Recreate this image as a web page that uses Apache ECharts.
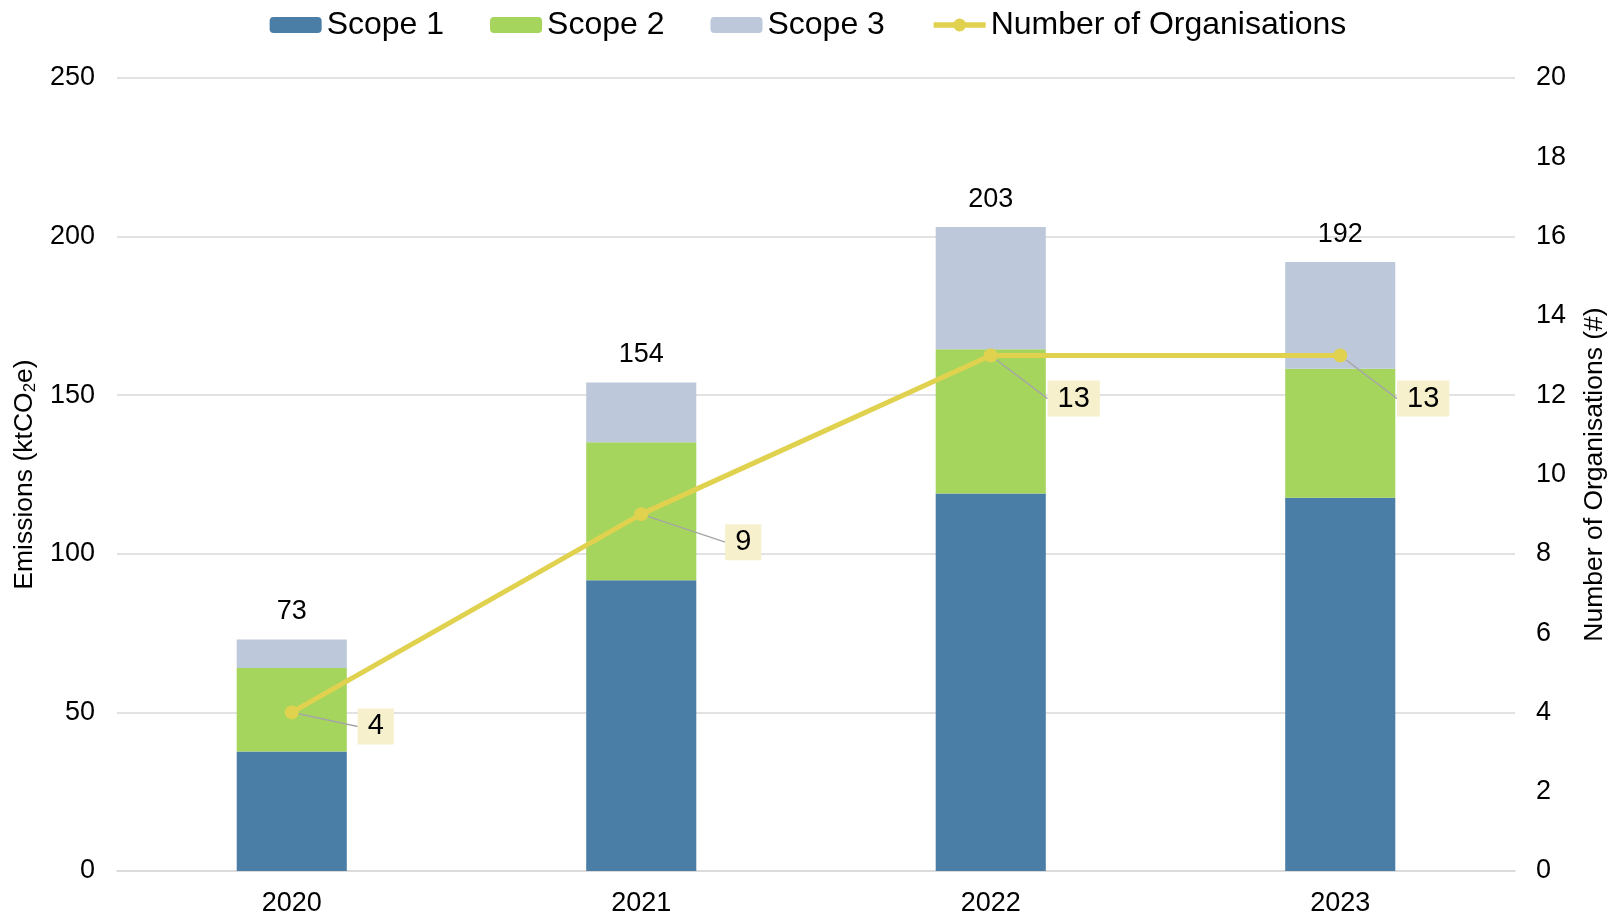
<!DOCTYPE html>
<html>
<head>
<meta charset="utf-8">
<style>
  html, body { margin: 0; padding: 0; background: #fff; }
  #chart { width: 1616px; height: 916px; }
</style>
<script src="https://cdn.jsdelivr.net/npm/echarts@6/dist/echarts.min.js"></script>
</head>
<body>
<div id="chart"></div>
<script>
const years = ['2020', '2021', '2022', '2023']
const scope1 = [37.7, 91.7, 119.0, 117.7]
const scope2 = [26.3, 43.5, 45.5, 40.6]
const scope3 = [9.0, 18.8, 38.5, 33.7]
const totals = [73, 154, 203, 192]
const organisations = [4, 9, 13, 13]

const font = 'Liberation Sans, Arial, sans-serif'
const labelShift = [[84, 14], [102, 28], [83, 43], [83, 43]]

const chart = echarts.init(document.getElementById('chart'))
chart.setOption({
  animation: false,
  textStyle: { fontFamily: font },
  legend: {
    top: 4,
    left: 'center',
    itemWidth: 52,
    itemHeight: 16,
    itemGap: 46,
    textStyle: { fontSize: 32, color: '#000', padding: [0, 0, 0, 0] },
    data: [
      'Scope 1',
      'Scope 2',
      'Scope 3',
      { name: 'Number of Organisations', lineStyle: { width: 5.5 } },
    ],
  },
  grid: { left: 117, right: 101, top: 78, bottom: 45, outerBoundsMode: 'none' },
  xAxis: {
    type: 'category',
    data: years,
    axisLine: { lineStyle: { color: '#D9D9D9', width: 1.5 } },
    axisTick: { show: false },
    axisLabel: { fontSize: 27, color: '#000', margin: 19 },
  },
  yAxis: [
    {
      type: 'value',
      min: 0,
      max: 250,
      interval: 50,
      name: '{n|Emissions (ktCO}{s|2}{n|e)}',
      nameLocation: 'middle',
      nameRotate: 90,
      nameGap: 67,
      nameTextStyle: {
        rich: {
          n: { fontSize: 26.5, color: '#000', fontFamily: font },
          s: { fontSize: 17, color: '#000', fontFamily: font, padding: [12, 0, 0, 0] },
        },
      },
      axisLabel: { fontSize: 27, color: '#000', margin: 22 },
      splitLine: { lineStyle: { color: '#D9D9D9', width: 1.5 } },
    },
    {
      type: 'value',
      min: 0,
      max: 20,
      interval: 2,
      name: 'Number of Organisations (#)',
      nameLocation: 'middle',
      nameRotate: 90,
      nameGap: 66,
      nameTextStyle: { fontSize: 26.5, color: '#000' },
      axisLabel: { fontSize: 27, color: '#000', margin: 21 },
      splitLine: { show: false },
    },
  ],
  series: [
    {
      name: 'Scope 1',
      type: 'bar',
      stack: 'e',
      barWidth: '31.5%',
      itemStyle: { color: '#4A7EA6' },
      data: scope1,
    },
    {
      name: 'Scope 2',
      type: 'bar',
      stack: 'e',
      itemStyle: { color: '#A5D55D' },
      data: scope2,
    },
    {
      name: 'Scope 3',
      type: 'bar',
      stack: 'e',
      itemStyle: { color: '#BDC8DA' },
      label: {
        show: true,
        position: 'top',
        distance: 14,
        fontSize: 27,
        color: '#000',
        formatter: (p) => totals[p.dataIndex],
      },
      data: scope3,
    },
    {
      name: 'Number of Organisations',
      type: 'line',
      yAxisIndex: 1,
      symbol: 'circle',
      symbolSize: 14,
      itemStyle: { color: '#E0D14E' },
      lineStyle: { color: '#E0D14E', width: 5 },
      z: 5,
      label: {
        show: true,
        position: 'inside',
        fontSize: 29,
        color: '#000',
        backgroundColor: '#F6F0CC',
        padding: [5, 10, 2, 10],
      },
      labelLine: { show: true, lineStyle: { color: '#A6A6A6', width: 1.5 } },
      labelLayout: (p) => ({ dx: labelShift[p.dataIndex][0], dy: labelShift[p.dataIndex][1] }),
      data: organisations,
    },
  ],
})
</script>
</body>
</html>
